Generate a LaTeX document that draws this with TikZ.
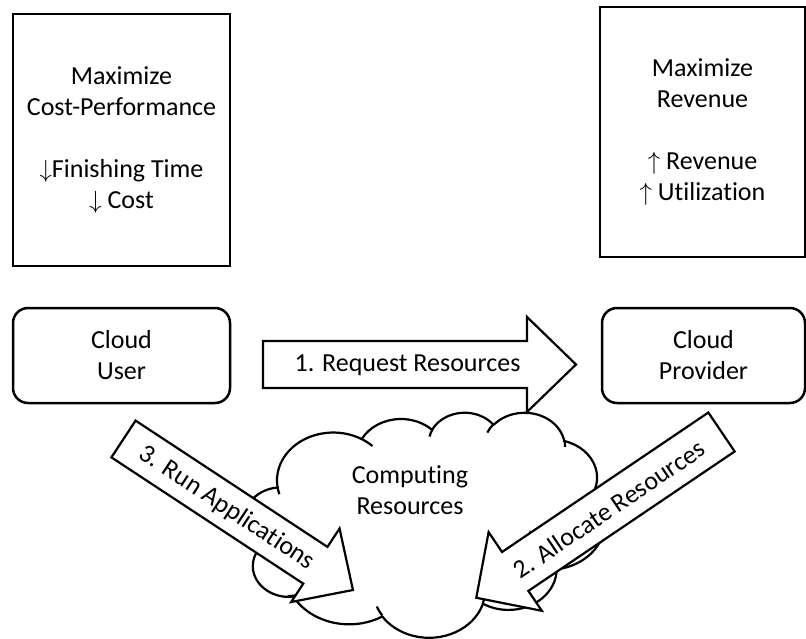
\documentclass[tikz,border=0pt]{standalone}
\usepackage{fontspec}
\setmainfont{Carlito}[Ligatures={NoCommon}]
\newcommand\ooarc[4]{\pgfextra{%
 \pgfmathparse{atan2((#1)*sin(#3),(#2)*cos(#3))}\xdef\ooS{\pgfmathresult}%
 \pgfmathparse{atan2((#1)*sin((#3)+(#4)),(#2)*cos((#3)+(#4)))}\xdef\ooE{\pgfmathresult}%
 \pgfmathparse{(\ooS)+Mod((\ooE)-(\ooS),360)}\xdef\ooEE{\pgfmathresult}%
}arc[start angle=\ooS, end angle=\ooEE, x radius=#1, y radius=#2]}
\begin{document}
\begin{tikzpicture}[x=1pt,y=-1pt,
  txt/.style={font=\fontsize{26}{31}\selectfont, align=center, inner sep=0pt, text=black},
  goalbox/.style={draw, line width=2.5pt, txt},
  actorbox/.style={draw, rounded corners=15pt, line width=2.5pt, txt},
  blockarrow/.style={draw, fill=white, line width=2.2pt, line join=miter},
  cloudline/.style={draw, line width=2.2pt, line join=round}]
\useasboundingbox (0,0) rectangle (806,639);

% goal boxes
\node[goalbox, minimum width=217pt, minimum height=252pt] (usergoal) at (121.5,140)
  {Maximize\\Cost-Performance\\[31pt]$\downarrow$Finishing Time\\$\downarrow$ Cost};
\node[goalbox, minimum width=205pt, minimum height=250pt] (provgoal) at (702.5,132)
  {Maximize\\Revenue\\[31pt]$\uparrow$ Revenue\\$\uparrow$ Utilization};

% actors
\node[actorbox, minimum width=217pt, minimum height=95pt] (user) at (121.5,355.5) {Cloud\\User};
\node[actorbox, minimum width=203pt, minimum height=95pt] (provider) at (703.5,355.5) {Cloud\\Provider};

% cloud (computing resources)
\begin{scope}[shift={(245,412)}, xscale=0.8333, yscale=0.5208]
\path[cloudline, fill=white] (39.00,143.70)
  \ooarc{67.53}{91.90}{-190.4875}{123.7805}
  \ooarc{53.33}{72.67}{-144.1024}{89.9452}
  \ooarc{43.65}{59.45}{-145.8079}{99.7230}
  \ooarc{48.57}{65.95}{-130.9861}{117.2417}
  \ooarc{53.33}{72.73}{-78.7089}{109.0269}
  \ooarc{67.75}{92.20}{-46.2673}{130.2690}
  \ooarc{57.85}{78.67}{0.6250}{114.0333}
  \ooarc{67.52}{92.15}{22.4516}{115.1726}
  \ooarc{77.20}{105.43}{66.2426}{75.7110}
  \ooarc{43.60}{59.18}{-274.9421}{146.7356}
  \ooarc{43.45}{59.45}{-246.8285}{152.5189}
  -- cycle;
\path[cloudline]
  (46.93,261.77) \ooarc{43.45}{59.45}{86.7420}{26.4295}
  (69.28,348.99) \ooarc{43.60}{59.18}{73.6014}{18.2452}
  (164.78,390.90) \ooarc{67.52}{92.15}{137.6242}{14.0811}
  (288.27,347.51) \ooarc{67.52}{92.15}{6.4533}{15.9984}
  (341.29,229.54) \ooarc{57.85}{78.67}{-70.2924}{70.9174}
  (417.98,153.54) \ooarc{53.33}{72.73}{30.3180}{27.7515}
  (383.24,54.26) \ooarc{48.57}{65.95}{-13.7443}{14.8589}
  (290.78,39.52) \ooarc{48.57}{65.95}{-149.1815}{18.1954}
  (221.41,47.20) \ooarc{43.65}{59.45}{-163.4943}{17.6864}
  (140.00,51.92) \ooarc{67.53}{91.90}{-66.7070}{12.3194}
  (41.27,157.89) \ooarc{67.53}{91.90}{157.6544}{11.8582};
\end{scope}
\node[txt] (resources) at (410,490) {Computing\\Resources};

% block arrows
\coordinate (reqtail) at (263,364.5);
\coordinate (runtail) at (123.5,439);
\coordinate (alloctail) at (721.5,432);
\begin{scope}[shift={(reqtail)}]
\path[blockarrow] (0,-23.5) -- (264,-23.5) -- (264,-47.5) -- (313,0) -- (264,47.5) -- (264,23.5) -- (0,23.5) -- cycle;
\end{scope}
\begin{scope}[shift={(runtail)}, rotate=-33.35]
\path[blockarrow] (0,-22) -- (229.7,-22) -- (229.7,-44) -- (274.7,0) -- (229.7,44) -- (229.7,22) -- (0,22) -- cycle;
\end{scope}
\begin{scope}[shift={(alloctail)}, rotate=214.06]
\path[blockarrow] (0,-23.5) -- (249,-23.5) -- (249,-47.5) -- (296,0) -- (249,47.5) -- (249,23.5) -- (0,23.5) -- cycle;
\end{scope}
\node[txt] (req) at (407.5,365) {1. Request Resources};
\node[txt, rotate=-33.35] (run) at (227,508) {3. Run Applications};
\node[txt, rotate=34.06] (alloc) at (609,509) {2. Allocate Resources};
\end{tikzpicture}
\end{document}
